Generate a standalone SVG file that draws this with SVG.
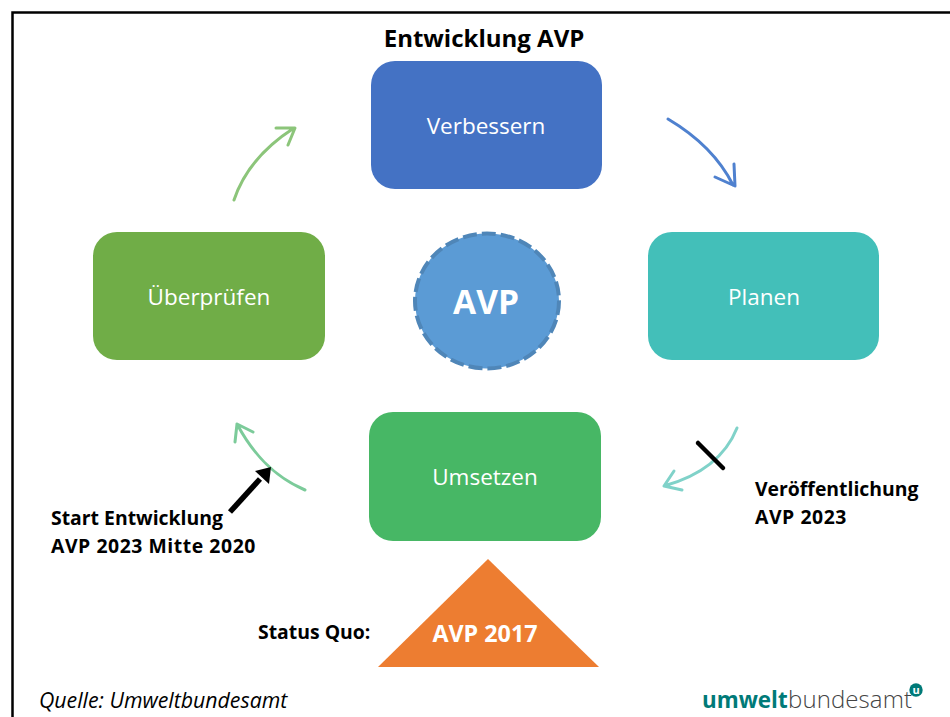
<svg xmlns="http://www.w3.org/2000/svg" width="950" height="717" viewBox="0 0 950 717">
<defs>
<style>
text{font-family:"Open Sans","Noto Sans","Liberation Sans",sans-serif}
.n{fill:#fff;font-size:22.5px;text-anchor:middle}
.b{fill:#000;font-size:19.4px;font-weight:700}
.w{letter-spacing:.55px}
.c{fill:none;stroke-width:3;stroke-linecap:round;stroke-linejoin:round}
</style>
</defs>
<rect width="950" height="717" fill="#fff"/>
<path d="M12.500 717V12.500H950" fill="none" stroke="#000" stroke-width="2.500"/>
<text x="484" y="47" text-anchor="middle" style="font-size:24px;font-weight:700">Entwicklung AVP</text>
<g id="connectors">
<path class="c" stroke="#4f81cf" d="M668 119C695 135 718 155 733 185M734 164L735 186L715 177"/>
<path class="c" stroke="#8cc57a" d="M234 200C244 170 266 146 294 128M276 128H295L288 145"/>
<path class="c" stroke="#7ccb9a" d="M305 490C272 476 252 452 237 424M235 442L237 424L253 432"/>
<path class="c" stroke="#80d2c9" d="M737 428C725 458 700 476 664 486M674 471L664 486L682 490"/>
<path fill="none" stroke="#000" stroke-width="5.500" d="M230 512L260 479"/>
<path fill="#000" d="M271 467L269 484L255 471Z"/>
<path fill="none" stroke="#000" stroke-width="4.500" stroke-linecap="round" d="M698 443L723 468"/>
</g>
<g id="verbessern"><rect x="371" y="61" width="231" height="128" rx="24" fill="#4472c4"/><text class="n" x="486" y="134">Verbessern</text></g>
<g id="planen"><rect x="648" y="232" width="231" height="128" rx="24" fill="#43bfb9"/><text class="n" x="764" y="305">Planen</text></g>
<g id="ueberpruefen"><rect x="93" y="232" width="232" height="128" rx="24" fill="#70ad47"/><text class="n" x="209" y="305">Überprüfen</text></g>
<g id="umsetzen"><rect x="369" y="412" width="232" height="129" rx="24" fill="#47b765"/><text class="n" x="485" y="485">Umsetzen</text></g>
<g id="avp"><ellipse cx="487" cy="301" rx="72" ry="67.500" fill="#5b9bd5" stroke="#4f86b8" stroke-width="4" stroke-dasharray="14 5"/><text x="486" y="314" text-anchor="middle" style="font-size:33.500px;font-weight:700;fill:#fff">AVP</text></g>
<g id="avp2017"><path d="M488 559L599 667H378Z" fill="#ed7d31"/><text x="485" y="642" text-anchor="middle" style="font-size:23.300px;font-weight:700;fill:#fff">AVP 2017</text></g>
<text class="b" x="51" y="525">Start Entwicklung</text>
<text class="b w" x="51" y="553">AVP 2023 Mitte 2020</text>
<text class="b" x="755" y="496">Veröffentlichung</text>
<text class="b w" x="755" y="524">AVP 2023</text>
<text class="b" x="258" y="639">Status Quo:</text>
<text x="39" y="708" style="font-size:21.300px;font-style:italic">Quelle: Umweltbundesamt</text>
<g id="logo">
<text y="708"><tspan x="702" fill="#007a78" font-weight="700" style="font-size:22.400px">umwelt</tspan><tspan x="788" fill="#444" font-weight="300" style="font-size:24px" textLength="124" lengthAdjust="spacing">bundesamt</tspan></text>
<circle cx="916" cy="690" r="6.700" fill="#007a78"/>
<text x="916" y="694" text-anchor="middle" style="font-size:11px;font-weight:700;fill:#fff">u</text>
</g>
</svg>
